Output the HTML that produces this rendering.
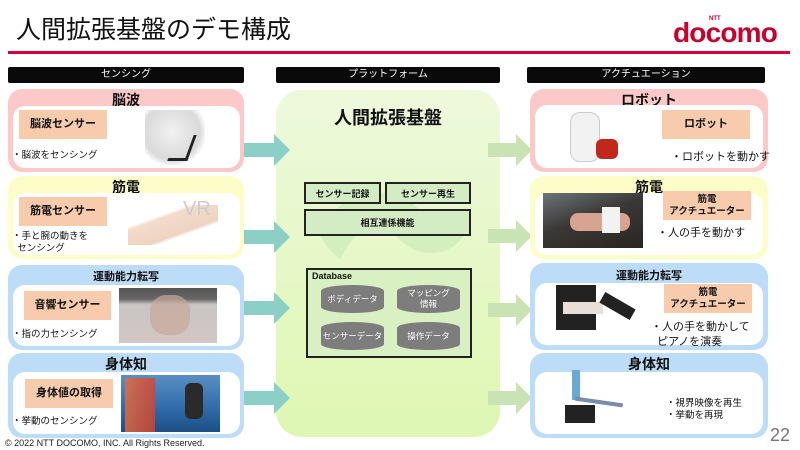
<!DOCTYPE html>
<html><head><meta charset="utf-8"><style>
*{margin:0;padding:0;box-sizing:border-box}
body{width:800px;height:450px;background:#fff;position:relative;overflow:hidden;font-family:"Liberation Sans","Noto Sans CJK JP",sans-serif;color:#111}
.a{position:absolute}
.hdr{position:absolute;top:67px;height:16px;background:#0a0a0a;color:#fff;font-size:10px;text-align:center;line-height:16px;border-radius:2px}
.panel{position:absolute;border-radius:14px}
.pink{background:#fcc8c8}.yel{background:#fdfdc9}.blue{background:#bcdcf7}
.inner{position:absolute;background:#fff;border-radius:12px}
.ttl{position:absolute;left:0;right:0;text-align:center;font-weight:bold;font-size:14px}
.ttl.s{font-size:11px}
.ob{position:absolute;background:#f8cbac;font-size:11px;font-weight:bold;display:flex;align-items:center;justify-content:center;text-align:center;line-height:13px}
.tx{position:absolute;font-size:9.5px;line-height:12px}
.tx.b{font-size:11px;line-height:15px}
.img{position:absolute}
.mb{position:absolute;background:#d4ecc4;border:2px solid #222;font-size:9px;font-weight:bold;display:flex;align-items:center;justify-content:center}
.cyl{position:absolute;width:63px;height:28px;background:#7d7d7d;border-radius:31px/6px;color:#fff;font-size:8.5px;display:flex;align-items:center;justify-content:center;text-align:center;line-height:11px}
</style></head><body>
<div class="a" style="left:16px;top:10px;font-size:25px;">人間拡張基盤のデモ構成</div>
<div class="a" style="left:8px;top:51px;width:782px;height:3px;background:#d6003a"></div>
<div class="a" style="left:709px;top:16px;font-size:6px;font-weight:bold;color:#c8002d">NTT</div>
<div class="a" style="left:673px;top:17px;font-size:28px;font-weight:bold;color:#c8002d;letter-spacing:-0.8px">docomo</div>

<div class="hdr" style="left:8px;width:236px">センシング</div>
<div class="hdr" style="left:276px;width:224px">プラットフォーム</div>
<div class="hdr" style="left:527px;width:238px">アクチュエーション</div>

<!-- platform -->
<div class="a" style="left:276px;top:90px;width:224px;height:347px;border-radius:26px;background:linear-gradient(180deg,#eef9dc,#def7b2)"></div>
<svg class="a" style="left:300px;top:170px" width="180" height="110"><path d="M20 60C40 20 90 10 120 40C140 60 160 80 170 50C160 90 120 90 100 70C80 50 60 50 40 90C30 80 20 70 20 60Z" fill="#c8eab8" opacity=".6"/></svg>
<div class="a" style="left:276px;top:104px;width:224px;text-align:center;font-size:18px;font-weight:bold">人間拡張基盤</div>
<div class="mb" style="left:304px;top:182px;width:77px;height:22px">センサー記録</div>
<div class="mb" style="left:385px;top:182px;width:86px;height:22px">センサー再生</div>
<div class="mb" style="left:304px;top:209px;width:167px;height:27px">相互連係機能</div>
<div class="a" style="left:306px;top:268px;width:166px;height:90px;border:2px solid #222;background:#d9f1c2"></div>
<div class="a" style="left:312px;top:271px;font-size:9px;font-weight:bold">Database</div>
<div class="cyl" style="left:321px;top:285px">ボディデータ</div>
<div class="cyl" style="left:397px;top:285px">マッピング<br>情報</div>
<div class="cyl" style="left:321px;top:322px">センサーデータ</div>
<div class="cyl" style="left:397px;top:322px">操作データ</div>

<!-- arrows left -->
<svg class="a" style="left:238px;top:0" width="60" height="450">
<g fill="#8ccfc6">
<path d="M0 143H36V134L52 150L36 166V157H0Z"/>
<path d="M0 230H36V221L52 237L36 253V244H0Z"/>
<path d="M0 301H36V292L52 308L36 324V315H0Z"/>
<path d="M0 391H36V382L52 398L36 414V405H0Z"/>
</g></svg>

<!-- arrows right -->
<svg class="a" style="left:488px;top:0" width="50" height="450">
<g fill="#c9e3b4">
<path d="M0 143H28V134L44 150L28 166V157H0Z"/>
<path d="M0 229H28V220L44 236L28 252V243H0Z"/>
<path d="M0 303H28V294L44 310L28 326V317H0Z"/>
<path d="M0 391H28V382L44 398L28 414V405H0Z"/>
</g></svg>

<!-- left panels -->
<div class="panel pink" style="left:8px;top:89px;width:236px;height:83px">
<div class="ttl" style="top:1px">脳波</div>
<div class="inner" style="left:5px;top:17px;width:227px;height:62px"></div></div>
<div class="ob" style="left:19px;top:110px;width:88px;height:29px">脳波センサー</div>
<div class="tx" style="left:12px;top:150px">・脳波をセンシング</div>
<div class="img" style="left:145px;top:110px;width:60px;height:55px;background:radial-gradient(ellipse at 45% 40%,#f1f1f1,#dadada 60%,#fff 75%)"></div>
<div class="a" style="left:172px;top:135px;width:20px;height:26px;border-right:3px solid #222;border-bottom:3px solid #222;transform:skewX(-20deg)"></div>

<div class="panel yel" style="left:8px;top:176px;width:236px;height:83px">
<div class="ttl" style="top:1px">筋電</div>
<div class="inner" style="left:5px;top:17px;width:227px;height:62px"></div></div>
<div class="ob" style="left:19px;top:197px;width:88px;height:29px">筋電センサー</div>
<div class="tx" style="left:12px;top:231px">・手と腕の動きを<br>&nbsp;&nbsp;センシング</div>
<div class="img" style="left:128px;top:205px;width:90px;height:40px;background:linear-gradient(160deg,transparent 30%,#f3dccb 35%,#efd3c0 65%,transparent 70%)"></div>
<div class="a" style="left:183px;top:198px;font-size:20px;color:#ccc">VR</div>

<div class="panel blue" style="left:8px;top:265px;width:236px;height:85px">
<div class="ttl s" style="top:3px">運動能力転写</div>
<div class="inner" style="left:5px;top:20px;width:227px;height:61px"></div></div>
<div class="ob" style="left:24px;top:291px;width:87px;height:29px">音響センサー</div>
<div class="tx" style="left:12px;top:329px">・指の力センシング</div>
<div class="img" style="left:119px;top:288px;width:98px;height:55px;background:linear-gradient(180deg,#555 0,#666 20%,#c9c4c2 30%,#d2c8c6 100%)"></div>
<div class="a" style="left:150px;top:295px;width:40px;height:40px;background:#c8a89a;border-radius:40%;opacity:.7"></div>

<div class="panel blue" style="left:8px;top:353px;width:236px;height:85px">
<div class="ttl" style="top:1px">身体知</div>
<div class="inner" style="left:5px;top:19px;width:227px;height:62px"></div></div>
<div class="ob" style="left:25px;top:379px;width:88px;height:29px">身体値の取得</div>
<div class="tx" style="left:12px;top:416px">・挙動のセンシング</div>
<div class="img" style="left:121px;top:375px;width:99px;height:57px;background:linear-gradient(180deg,#5a8fc4,#2f6aa8 60%,#1c4f83)"></div>
<div class="a" style="left:125px;top:378px;width:30px;height:54px;background:linear-gradient(90deg,#e86a3a,#d9422b);opacity:.8"></div>
<div class="a" style="left:185px;top:383px;width:18px;height:36px;background:#2a2a2a;border-radius:6px"></div>

<!-- right panels -->
<div class="panel pink" style="left:530px;top:89px;width:238px;height:83px">
<div class="ttl" style="top:1px">ロボット</div>
<div class="inner" style="left:5px;top:16px;width:228px;height:63px"></div></div>
<div class="ob" style="left:662px;top:110px;width:88px;height:29px">ロボット</div>
<div class="tx b" style="left:671px;top:150px">・ロボットを動かす</div>
<div class="a" style="left:570px;top:112px;width:30px;height:50px;background:#f2f2f2;border:1px solid #ccc;border-radius:10px"></div>
<div class="a" style="left:596px;top:139px;width:22px;height:20px;background:#c0281c;border-radius:6px"></div>

<div class="panel yel" style="left:530px;top:176px;width:238px;height:83px">
<div class="ttl" style="top:1px">筋電</div>
<div class="inner" style="left:5px;top:17px;width:228px;height:62px"></div></div>
<div class="ob" style="left:663px;top:191px;width:88px;height:29px;font-size:9.5px;line-height:12px">筋電<br>アクチュエーター</div>
<div class="tx b" style="left:657px;top:226px">・人の手を動かす</div>
<div class="img" style="left:543px;top:193px;width:100px;height:55px;background:linear-gradient(160deg,#6e7478,#3a3836 45%,#2a2523)"></div>
<div class="a" style="left:570px;top:213px;width:60px;height:18px;background:#d7a492;border-radius:8px"></div>
<div class="a" style="left:602px;top:207px;width:18px;height:26px;background:#f2f2f2"></div>

<div class="panel blue" style="left:530px;top:263px;width:238px;height:87px">
<div class="ttl s" style="top:4px">運動能力転写</div>
<div class="inner" style="left:5px;top:20px;width:228px;height:62px"></div></div>
<div class="ob" style="left:664px;top:284px;width:88px;height:29px;font-size:9.5px;line-height:12px">筋電<br>アクチュエーター</div>
<div class="tx b" style="left:651px;top:320px">・人の手を動かして<br>&nbsp;&nbsp;ピアノを演奏</div>
<div class="a" style="left:556px;top:285px;width:40px;height:45px;background:#222"></div>
<div class="a" style="left:563px;top:302px;width:40px;height:12px;background:#e8e0d8"></div>
<div class="a" style="left:600px;top:300px;width:35px;height:12px;background:#222;transform:rotate(30deg)"></div>

<div class="panel blue" style="left:530px;top:353px;width:238px;height:85px">
<div class="ttl" style="top:1px">身体知</div>
<div class="inner" style="left:5px;top:19px;width:228px;height:62px"></div></div>
<div class="tx" style="left:666px;top:398px">・視界映像を再生<br>・挙動を再現</div>
<div class="a" style="left:565px;top:405px;width:30px;height:18px;background:#222"></div>
<div class="a" style="left:572px;top:370px;width:8px;height:30px;background:#6aa8d8"></div>
<div class="a" style="left:575px;top:400px;width:48px;height:4px;background:#7a8bb0;transform:rotate(8deg)"></div>

<div class="a" style="left:5px;top:438px;font-size:9px;color:#222">© 2022 NTT DOCOMO, INC. All Rights Reserved.</div>
<div class="a" style="left:770px;top:425px;font-size:18px;color:#777">22</div>
</body></html>
